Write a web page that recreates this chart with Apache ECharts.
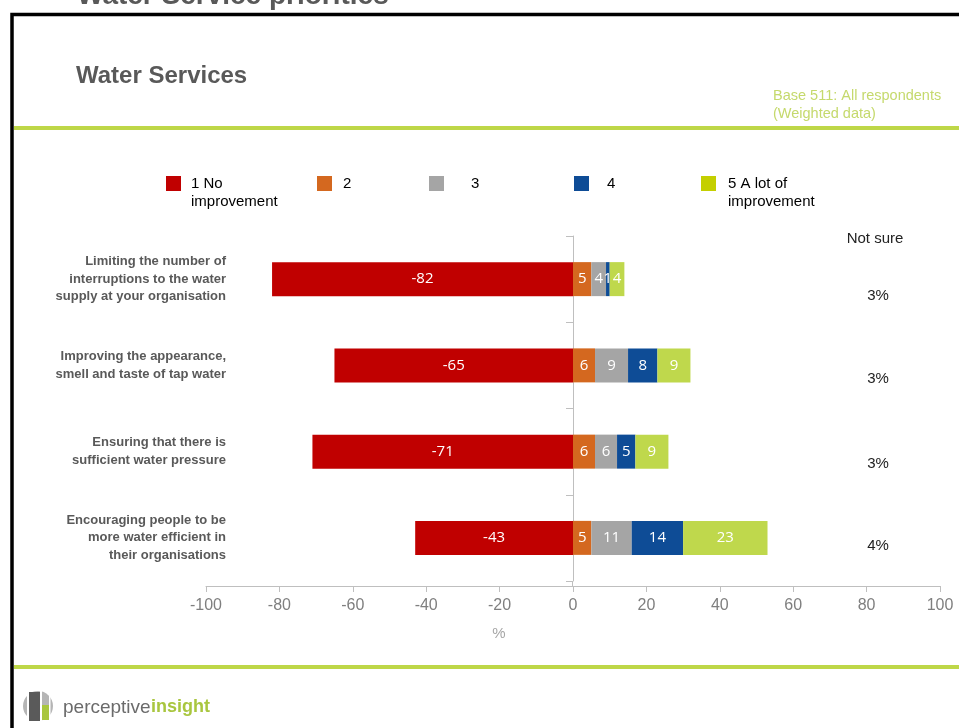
<!DOCTYPE html>
<html>
<head>
<meta charset="utf-8">
<script src="https://cdn.jsdelivr.net/npm/echarts@6/dist/echarts.min.js"></script>
<style>
html,body{margin:0;padding:0;background:#fff;}
#chart{width:959px;height:728px;}
</style>
</head>
<body>
<div id="chart"></div>
<script>
const categories = [
  'Limiting the number of\ninterruptions to the water\nsupply at your organisation',
  'Improving the appearance,\nsmell and taste of tap water',
  'Ensuring that there is\nsufficient water pressure',
  'Encouraging people to be\nmore water efficient in\ntheir organisations'
];
const seriesNames = ['1 No\nimprovement', '2', '3', '4', '5 A lot of\nimprovement'];
const noImprovement = [-82, -65, -71, -43];
const score2 = [5, 6, 6, 5];
const score3 = [4, 9, 6, 11];
const score4 = [1, 8, 5, 14];
const lotOfImprovement = [4, 9, 9, 23];
const notSure = [3, 3, 3, 4];
const xTicks = { min: -100, max: 100, interval: 20 };

const barColors = ['#C00000', '#D4681F', '#A5A5A5', '#0E4C96', '#BFD84C'];
const legendColors = ['#C00000', '#D4681F', '#A5A5A5', '#0E4C96', '#C4CF00'];
const values = [noImprovement, score2, score3, score4, lotOfImprovement];

const chart = echarts.init(document.getElementById('chart'), null, { renderer: 'canvas' });

const legendLefts = [166, 317, 429, 574, 701];
const legendPadLeft = [5, 6, 22, 13, 7];
const legends = seriesNames.map((n, i) => {
  const multi = n.indexOf('\n') >= 0;
  return {
    show: true,
    left: legendLefts[i],
    top: multi ? 156.5 : 174.5,
    padding: 0,
    itemWidth: 15,
    itemHeight: 15,
    icon: 'rect',
    selectedMode: false,
    data: [{ name: n, itemStyle: { color: legendColors[i] } }],
    formatter: name => (name.indexOf('\n') >= 0 ? '\n' + name : name),
    textStyle: {
      fontFamily: 'Arial, Liberation Sans, sans-serif',
      fontSize: 15,
      color: '#000',
      lineHeight: 18,
      padding: [0, 0, 0, legendPadLeft[i]]
    }
  };
});

const pctOffsets = [17, 13, 12, 8];
const rich = {};
pctOffsets.forEach((o, i) => {
  rich['r' + i] = { padding: [2 * o, 0, 0, 0], fontSize: 15, color: '#222', fontFamily: 'Arial, Liberation Sans, sans-serif' };
});

const series = seriesNames.map((n, i) => ({
  name: n,
  type: 'bar',
  stack: 'total',
  barWidth: 34,
  xAxisIndex: 0,
  yAxisIndex: 0,
  data: values[i],
  itemStyle: { color: barColors[i] },
  label: {
    show: true,
    position: 'inside',
    color: '#fff',
    fontSize: 15,
    fontFamily: 'Liberation Sans Narrow, Arial Narrow, Open Sans, sans-serif',
    formatter: p => String(p.value)
  },
  emphasis: { disabled: true },
  silent: true
}));

const option = {
  animation: false,
  backgroundColor: '#fff',
  legend: legends,
  grid: { left: 206, right: 19, top: 236, bottom: 147, containLabel: false },
  xAxis: {
    type: 'value',
    min: xTicks.min,
    max: xTicks.max,
    interval: xTicks.interval,
    offset: 5,
    axisLine: { show: true, lineStyle: { color: '#BFBFBF', width: 1 } },
    axisTick: { show: true, length: 6, lineStyle: { color: '#BFBFBF' } },
    splitLine: { show: false },
    axisLabel: {
      color: '#7F7F7F',
      fontSize: 16,
      margin: 12,
      fontFamily: 'Liberation Sans Narrow, Arial Narrow, sans-serif'
    }
  },
  yAxis: [
    {
      type: 'category',
      data: categories,
      inverse: true,
      position: 'left',
      offset: -20,
      axisLine: { show: false, onZero: false },
      axisTick: { show: false },
      axisLabel: {
        margin: 0,
        align: 'right',
        fontSize: 13,
        fontWeight: 'bold',
        color: '#595959',
        lineHeight: 17.5,
        fontFamily: 'Arial, Liberation Sans, sans-serif'
      }
    },
    {
      type: 'category',
      data: categories,
      inverse: true,
      position: 'left',
      axisLine: { show: true, onZero: true, onZeroAxisIndex: 0, lineStyle: { color: '#BFBFBF', width: 1 } },
      axisTick: { show: true, length: 7, lineStyle: { color: '#BFBFBF' } },
      axisLabel: { show: false }
    },
    {
      type: 'category',
      data: notSure.map(v => v + '%'),
      inverse: true,
      position: 'right',
      axisLine: { show: false, onZero: false },
      axisTick: { show: false },
      axisLabel: {
        inside: true,
        align: 'center',
        margin: 62,
        formatter: (v, i) => '{r' + i + '|' + v + '}',
        rich: rich
      }
    }
  ],
  series: series,
  graphic: [
    { type: 'text', left: 77, top: -18, style: { text: 'Water Service priorities', font: 'bold 28px Arial, Liberation Sans, sans-serif', fill: '#595959' }, silent: true },
    { type: 'polyline', shape: { points: [[12, 730], [12, 14.5], [962, 14.5]] }, style: { stroke: '#000', lineWidth: 3.5, fill: null }, silent: true },
    { type: 'text', left: 76, top: 64, style: { text: 'Water Services', font: 'bold 24px Arial, Liberation Sans, sans-serif', fill: '#595959' }, silent: true },
    { type: 'text', left: 773, top: 87, style: { text: 'Base 511: All respondents\n(Weighted data)', font: '14.5px Arial, Liberation Sans, sans-serif', fill: '#C5D96C', lineHeight: 18 }, silent: true },
    { type: 'rect', shape: { x: 14, y: 126, width: 950, height: 4 }, style: { fill: '#BED748' }, silent: true },
    { type: 'rect', shape: { x: 14, y: 665, width: 950, height: 4 }, style: { fill: '#BED748' }, silent: true },
    { type: 'line', shape: { x1: 572.5, y1: 581, x2: 572.5, y2: 586 }, style: { stroke: '#BFBFBF', lineWidth: 1 }, silent: true },
    { type: 'text', x: 875, y: 239, style: { text: 'Not sure', font: '15px Arial, Liberation Sans, sans-serif', fill: '#222', align: 'center', verticalAlign: 'middle' }, silent: true },
    { type: 'text', x: 499, y: 634, style: { text: '%', font: '15px Liberation Sans Narrow, Arial Narrow, sans-serif', fill: '#A6A6A6', align: 'center', verticalAlign: 'middle' }, silent: true },
    // logo
    { type: 'circle', shape: { cx: 38, cy: 706, r: 15 }, style: { fill: '#B5B5B5' }, silent: true },
    { type: 'rect', shape: { x: 27, y: 690, width: 2, height: 32 }, style: { fill: '#fff' }, silent: true },
    { type: 'rect', shape: { x: 29, y: 692, width: 11, height: 29 }, style: { fill: '#5A5A5A' }, silent: true },
    { type: 'rect', shape: { x: 40, y: 690, width: 2, height: 32 }, style: { fill: '#fff' }, silent: true },
    { type: 'rect', shape: { x: 42, y: 705, width: 7, height: 15 }, style: { fill: '#A9C63F' }, silent: true },
    { type: 'rect', shape: { x: 49, y: 690, width: 1.5, height: 32 }, style: { fill: '#fff' }, silent: true },
    { type: 'text', left: 63, top: 698, style: { text: 'perceptive', font: '19px Arial, Liberation Sans, sans-serif', fill: '#6B6B6B' }, silent: true },
    { type: 'text', left: 151, top: 698, style: { text: 'insight', font: 'bold 18px Arial, Liberation Sans, sans-serif', fill: '#A9C63F' }, silent: true }
  ]
};
chart.setOption(option);
</script>
</body>
</html>
